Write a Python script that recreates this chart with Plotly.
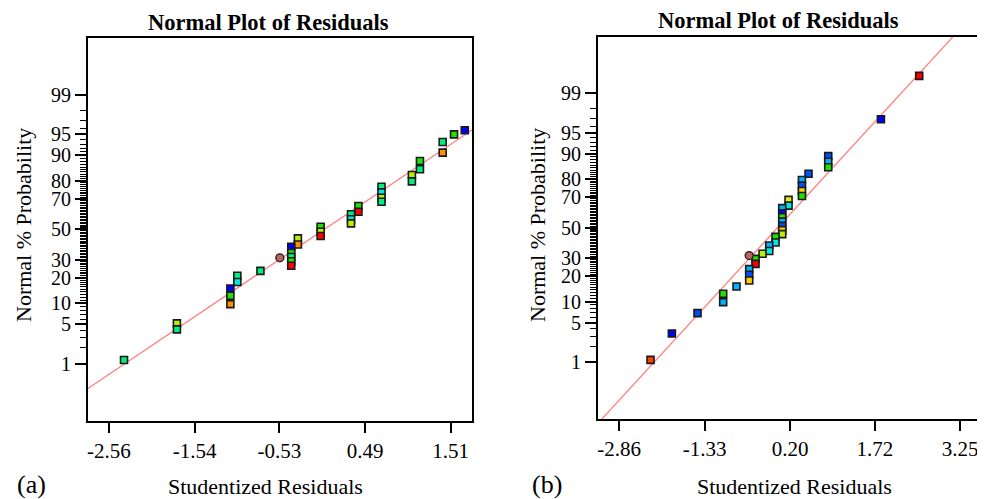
import plotly.graph_objects as go
from statistics import NormalDist

ND = NormalDist()

# ---------------- data ----------------
# panel (a)
a_resid = [-2.381, -1.751, -1.751, -1.114, -1.114, -1.114, -1.031, -1.031, -0.756,
           -0.389, -0.389, -0.389, -0.389, -0.389, -0.310, -0.310, -0.039, -0.039, -0.039,
           0.323, 0.323, 0.323, 0.411, 0.411, 0.686, 0.686, 0.686, 0.686,
           1.048, 1.048, 1.144, 1.144, 1.415, 1.415, 1.550, 1.678]
a_prob = [1.18, 5.17, 4.16, 15.3, 12.5, 9.77, 21.1, 18.1, 23.6,
          38.1, 34.1, 31.6, 29.0, 26.4, 43.8, 39.7, 51.8, 48.3, 45.4,
          60.3, 56.9, 54.1, 65.7, 62.0, 77.0, 73.9, 70.8, 68.4,
          82.7, 79.7, 88.2, 85.1, 93.5, 90.8, 95.0, 95.7]
a_color = ["sp", "yg", "sp", "bl", "gr", "or", "sp", "cy", "sp",
           "bl", "gr", "sp", "gr", "rd", "yg", "or", "gr", "yg", "rd",
           "sp", "cy", "yg", "gr", "rd", "sp", "cy", "yg", "sp",
           "yg", "sp", "gr", "sp", "sp", "or", "gr", "bl"]
a_ticks = [-2.56, -1.54, -0.53, 0.49, 1.51]
a_ticklabels = ["-2.56", "-1.54", "-0.53", "0.49", "1.51"]
a_xrange = [-2.81, 1.764]
a_yrange = [-3.32, 3.315]
a_line = [0.979, -0.005]          # slope, intercept (z = slope*x + intercept)
a_marker = [-0.525, 31.1]         # highlighted point (resid, prob)

# panel (b)
b_resid = [-2.299, -1.916, -1.457, -0.997, -0.997, -0.758, -0.531, -0.531, -0.531,
           -0.418, -0.418, -0.292, -0.172, -0.172, -0.059, -0.059,
           0.061, 0.061, 0.061, 0.061, 0.061, 0.061, 0.061, 0.174, 0.174,
           0.414, 0.414, 0.414, 0.414, 0.532, 0.885, 0.885, 0.885, 1.829, 2.515]
b_prob = [1.10, 3.33, 6.93, 12.6, 9.84, 15.4, 23.6, 20.7, 17.96,
          29.4, 26.5, 32.5, 37.8, 34.2, 43.6, 39.8,
          63.2, 59.8, 57.1, 54.1, 51.2, 48.2, 45.5, 68.4, 64.8,
          79.5, 76.6, 73.7, 70.8, 82.4, 89.2, 87.3, 85.2, 96.96, 99.57]
b_color = ["orr", "bl", "mb", "gr", "lb", "lb", "lb", "mb", "gd",
           "gr", "rd", "yg", "lb", "cy", "gr", "cy",
           "lb", "bl", "gr", "lb", "mb", "gd", "yg", "ye", "cy",
           "lb", "mb", "gd", "gr", "mb", "mb", "lb", "gr", "bl", "rd"]
b_ticks = [-2.86, -1.33, 0.20, 1.72, 3.25]
b_ticklabels = ["-2.86", "-1.33", "0.20", "1.72", "3.25"]
b_xrange = [-3.24, 3.64]
b_yrange = [-3.315, 3.30]
b_line = [1.0525, 0.021]
b_marker = [-0.531, 31.4]

prob_ticks = [1, 5, 10, 20, 30, 50, 70, 80, 90, 95, 99]
prob_minor = [p for p in range(1, 100) if p not in prob_ticks]

# ---------------- styles ----------------
PALETTE = {
    "bl": "#0000ff", "mb": "#0050ff", "lb": "#00b0ff", "cy": "#00e8e0",
    "sp": "#00f080", "gr": "#20e000", "yg": "#b8f000", "ye": "#e8f000",
    "gd": "#ffd000", "or": "#ff9000", "orr": "#ff4000", "rd": "#ff0000",
}
FONT = "Times New Roman, Liberation Serif, serif"
LINE_COLOR = "#ff8080"

# the page body has an 8px margin: work in screen pixels and shift
OFF = 8
W, H = 985 - OFF, 499 - OFF
a_box = dict(x0=88, x1=472, y0=38, y1=421)
b_box = dict(x0=598, x1=982, y0=37, y1=419)


def px(x):
    return (x - OFF) / W


def py(y):
    return 1 - (y - OFF) / H


def dom_x(b):
    return [px(b["x0"]), px(b["x1"])]


def dom_y(b):
    return [py(b["y1"]), py(b["y0"])]


def z(p):
    return ND.inv_cdf(p / 100.0)


fig = go.Figure()


def add_panel(resid, prob, colors, xrange_, line, marker, xa, ya):
    xs = [xrange_[0], xrange_[1]]
    zs = [line[0] * x + line[1] for x in xs]
    fig.add_trace(go.Scatter(x=xs, y=zs, mode="lines",
                             line=dict(color=LINE_COLOR, width=1.3),
                             xaxis=xa, yaxis=ya, hoverinfo="skip", showlegend=False))
    order = sorted(range(len(resid)), key=lambda i: -prob[i])
    fig.add_trace(go.Scatter(
        x=[resid[i] for i in order], y=[z(prob[i]) for i in order], mode="markers",
        marker=dict(symbol="square", size=7,
                    color=[PALETTE[colors[i]] for i in order],
                    line=dict(color="#1a1a1a", width=1.6)),
        xaxis=xa, yaxis=ya, showlegend=False, cliponaxis=False))
    fig.add_trace(go.Scatter(
        x=[marker[0]], y=[z(marker[1])], mode="markers",
        marker=dict(symbol="circle", size=8, color="#b86262",
                    line=dict(color="#202020", width=1.3)),
        xaxis=xa, yaxis=ya, showlegend=False))


add_panel(a_resid, a_prob, a_color, a_xrange, a_line, a_marker, "x", "y")
add_panel(b_resid, b_prob, b_color, b_xrange, b_line, b_marker, "x2", "y2")

xcommon = dict(showgrid=False, zeroline=False, showline=True, linecolor="black",
               linewidth=2, mirror=True, ticks="outside", ticklen=10, tickwidth=2,
               tickcolor="black", tickfont=dict(family=FONT, size=21, color="black"))
ycommon = dict(showgrid=False, zeroline=False, showline=True, linecolor="black",
               linewidth=2, mirror=True, ticks="outside", ticklen=11, tickwidth=2,
               tickcolor="black", tickmode="array",
               tickvals=[z(p) for p in prob_ticks], ticktext=[str(p) for p in prob_ticks],
               tickfont=dict(family=FONT, size=20, color="black"),
               minor=dict(tickmode="array", tickvals=[z(p) for p in prob_minor],
                          ticks="outside", ticklen=6, tickwidth=1.3, tickcolor="black"))

fig.update_layout(
    width=W, height=H, margin=dict(l=0, r=0, t=0, b=0),
    paper_bgcolor="white", plot_bgcolor="white",
    xaxis=dict(domain=dom_x(a_box), range=a_xrange, tickmode="array",
               tickvals=a_ticks, ticktext=a_ticklabels, anchor="y", **xcommon),
    yaxis=dict(domain=dom_y(a_box), range=a_yrange, anchor="x", **ycommon),
    xaxis2=dict(domain=dom_x(b_box), range=b_xrange, tickmode="array",
                tickvals=b_ticks, ticktext=b_ticklabels, anchor="y2", **xcommon),
    yaxis2=dict(domain=dom_y(b_box), range=b_yrange, anchor="x2", **ycommon),
)

ann_font = dict(family=FONT, size=22, color="black")
anns = [
    # titles
    dict(text="<b>Normal Plot of Residuals</b>", x=px(268), y=py(22), size=22.5),
    dict(text="<b>Normal Plot of Residuals</b>", x=px(778), y=py(21), size=22.5),
    # x titles
    dict(text="Studentized Residuals", x=px(265), y=py(486)),
    dict(text="Studentized Residuals", x=px(794), y=py(486)),
    # panel labels
    dict(text="(a)", x=px(31), y=py(484), size=26),
    dict(text="(b)", x=px(547), y=py(484), size=26),
]
for a in anns:
    f = dict(ann_font)
    if "size" in a:
        f["size"] = a.pop("size")
    fig.add_annotation(xref="paper", yref="paper", xanchor="center", yanchor="middle",
                       showarrow=False, font=f, **a)

for xc in (23, 537):
    fig.add_annotation(text="Normal % Probability", xref="paper", yref="paper",
                       x=px(xc), y=py(225), textangle=-90, showarrow=False,
                       xanchor="center", yanchor="middle", font=ann_font)

fig.write_html("out.html")
